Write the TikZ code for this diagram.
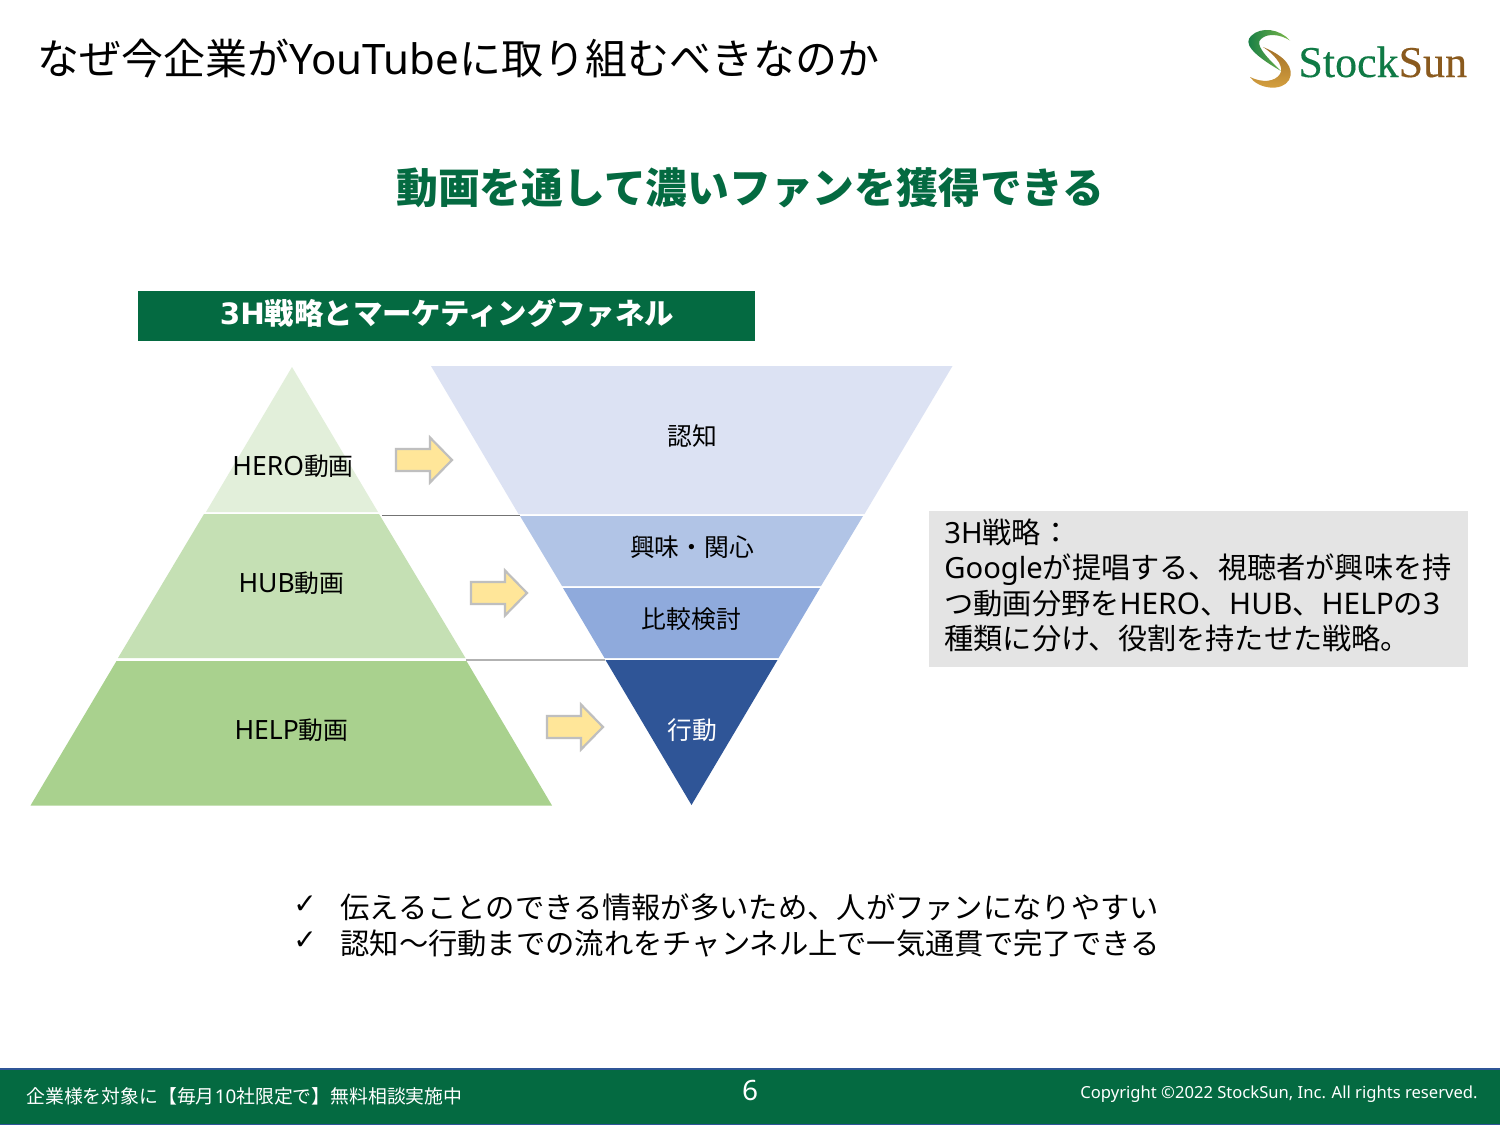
\documentclass[tikz,border=0pt]{standalone}
\usepackage{fontspec}
\setmainfont{Noto Sans CJK JP}
\newfontfamily\lat{Noto Sans}
\newfontfamily\latw[Scale=1.07]{Noto Sans}
\newfontfamily\latn[Scale=1.02]{Noto Sans}
\newfontfamily\logofont[FakeBold=0.35]{Liberation Serif}
\newfontfamily\sym{DejaVu Sans}
\definecolor{brand}{HTML}{046A41}
\definecolor{footline}{HTML}{2F5597}
\definecolor{gA}{HTML}{E2EFDA}
\definecolor{gB}{HTML}{C5E0B4}
\definecolor{gC}{HTML}{A9D18E}
\definecolor{bA}{HTML}{DCE2F3}
\definecolor{bB}{HTML}{B1C4E6}
\definecolor{bC}{HTML}{8FAADC}
\definecolor{bD}{HTML}{2F5597}
\definecolor{arrowfill}{HTML}{FFE699}
\definecolor{arrowline}{HTML}{BFBFBF}
\definecolor{notebox}{HTML}{E4E4E4}
\definecolor{logogreen}{HTML}{0F7A45}
\definecolor{logolight}{HTML}{7DB84A}
\definecolor{logobrown}{HTML}{8A5A1E}
\definecolor{logogold}{HTML}{D9A441}
\newcommand{\fs}[1]{\fontsize{#1pt}{#1pt}\selectfont}
\newcommand{\fsl}[1]{\fontsize{#1pt}{17.7pt}\selectfont}
\newcommand{\yarrow}[2]{\draw[flowarrow] (#1,#2) -- ++(34,0) -- ++(0,-11.5) -- ++(22,22.5) -- ++(-22,22.5) -- ++(0,-11.5) -- ++(-34,0) -- cycle;}
\tikzset{
  x=0.5pt,y=-0.5pt,
  lbl/.style={inner sep=0pt,font=\fs{12.4},text=black},
  flowarrow/.style={fill=arrowfill,draw=arrowline,line width=1.1pt,line join=miter},
  txt/.style={inner sep=0pt,anchor=west,text=black,font=\fs{14.65}},
  bridge/.style={line width=0.5pt}
}
\begin{document}
\begin{tikzpicture}
\useasboundingbox (0,0) rectangle (1500,1125);
\fill[white] (0,0) rectangle (1500,1125);
% title
\node[inner sep=0pt,anchor=west,font=\fs{21}] (title) at (37,58) {なぜ今企業が{\lat YouTube}に取り組むべきなのか};
\node[inner sep=0pt,font=\fs{20.9}\bfseries,text=brand] (sub) at (750.5,187.5) {動画を通して濃いファンを獲得できる};
% logo
\shade[left color=logogreen,right color=logolight] (1290,40.5) .. controls (1280,29) and (1261,26) .. (1251,36) .. controls (1244,43) and (1250,53) .. (1281,71) .. controls (1264,55) and (1255,44) .. (1261,39) .. controls (1267,33) and (1280,34) .. (1290,40.5) -- cycle;
\shade[top color=logobrown!70!logogold,bottom color=logogold] (1250,77) .. controls (1258,89) and (1282,92) .. (1289,80) .. controls (1295,68) and (1285,56) .. (1263,47) .. controls (1278,57) and (1284,68) .. (1280,74) .. controls (1275,82) and (1262,83) .. (1250,77) -- cycle;
\node[inner sep=0pt,anchor=base west,font=\fs{22}\logofont] (logo) at (1298,77) {\textcolor{logogreen}{Stock}\textcolor{logobrown}{Sun}};
% header bar
\node[inner sep=0pt,minimum width=308.5pt,minimum height=25pt,fill=brand,text=white] (head) at (446.5,316) {};
\node[inner sep=0pt,text=white,font=\fs{14.7}\bfseries] (headtxt) at (447,313) {{\sym\bfseries 3H}戦略とマーケティングファネル};
% left pyramid
\fill[gA] (292,367) -- (378,512) -- (206,512) -- cycle;
\fill[gB] (204,514) -- (379,514) -- (465.5,658) -- (118,658) -- cycle;
\fill[gC] (116.5,661) -- (466.5,661) -- (552,805.5) -- (30.5,805.5) -- cycle;
% right funnel
\fill[bA] (431,366) -- (952.5,366) -- (864.5,514) -- (518.5,514) -- cycle;
\fill[bB] (520,516) -- (863,516) -- (821,586) -- (562,586) -- cycle;
\fill[bC] (563,588) -- (820,588) -- (778.5,658) -- (604.5,658) -- cycle;
\fill[bD] (605.5,660) -- (777.5,660) -- (691.5,805) -- cycle;
% bridges
\coordinate (bra) at (382,515.5); \coordinate (brb) at (520,515.5);
\coordinate (brc) at (466,660); \coordinate (brd) at (605,660);
\draw[bridge,draw=black!55] (bra) -- (brb);
\draw[bridge,draw=black!30,line width=0.7pt] (brc) -- (brd);
% arrows
\yarrow{396}{449}
\yarrow{471}{582}
\yarrow{547}{716}
% labels
\node[lbl] (hero) at (293,466) {{\latw HERO}動画};
\node[lbl] (hub) at (291.5,583) {{\latw HUB}動画};
\node[lbl] (help) at (291.5,730) {{\latw HELP}動画};
\node[lbl] (ninchi) at (692,436) {認知};
\node[lbl] (kyomi) at (692,547) {興味・関心};
\node[lbl] (hikaku) at (691.5,619) {比較検討};
\node[lbl,text=white] (kodo) at (692,730) {行動};
% note box
\node[inner sep=0pt,minimum width=269.5pt,minimum height=78pt,fill=notebox] (note) at (1198.5,589) {};
\node[txt,align=left,font=\fsl{14.6}] (notetxt) at (944,585.5) {{\lat 3H}戦略：\\{\lat Google}が提唱する、視聴者が興味を持\\つ動画分野を{\latn HERO}、{\latn HUB}、{\latn HELP}の{\latn 3}\\種類に分け、役割を持たせた戦略。};
% checks
\node[txt,font=\fs{14}\sym] (ck1) at (293,905) {✓};
\node[txt,font=\fs{14}\sym] (ck2) at (293,941) {✓};
\node[txt] (b1) at (340,907) {伝えることのできる情報が多いため、人がファンになりやすい};
\node[txt] (b2) at (340,943) {認知～行動までの流れをチャンネル上で一気通貫で完了できる};
% footer
\draw[fill=brand,draw=footline,line width=1pt] (-2,1069) rectangle (1502,1125);
\node[inner sep=0pt,anchor=west,text=white,font=\fs{9.42}] (foot) at (26,1096) {企業様を対象に【毎月{\lat 10}社限定で】無料相談実施中};
\node[inner sep=0pt,text=white,font=\fs{14}\lat] (page) at (750,1090) {6};
\node[inner sep=0pt,anchor=east,text=white,font=\fs{8.3}\lat] (copy) at (1478,1094.5) {Copyright ©2022 StockSun, Inc. All rights reserved.};
\end{tikzpicture}
\end{document}
